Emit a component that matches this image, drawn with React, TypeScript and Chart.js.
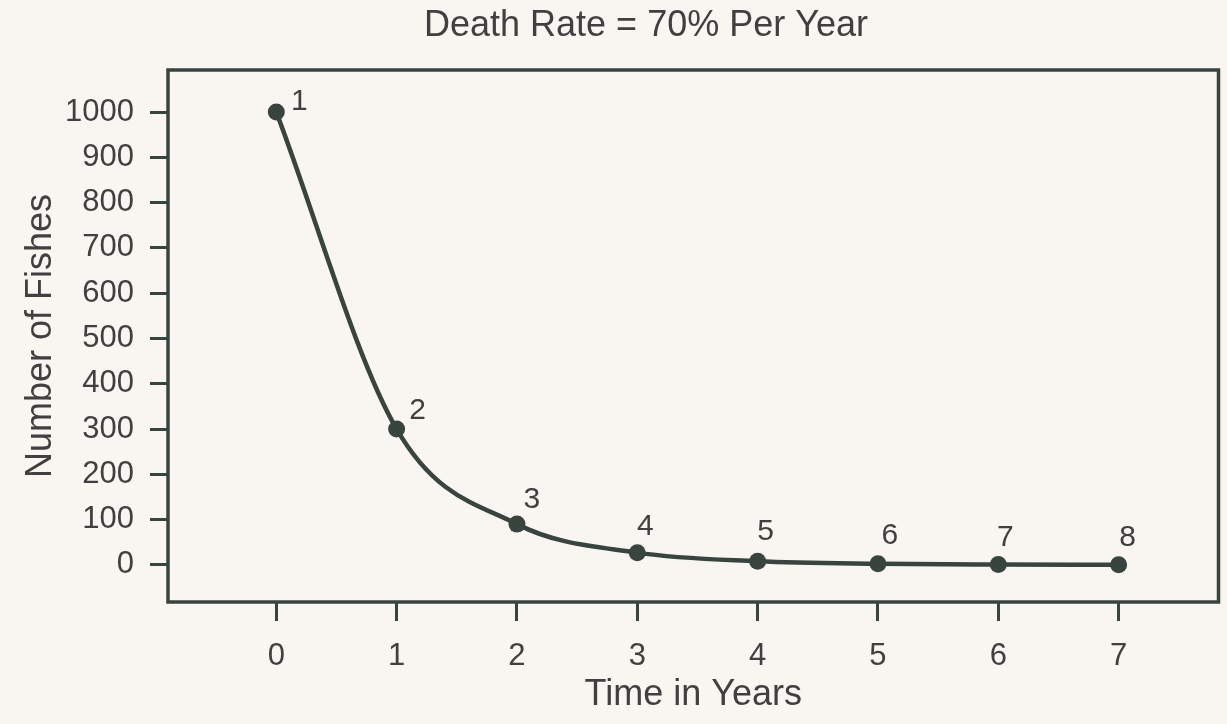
import React, { useEffect, useRef } from "react";
import { Chart, registerables } from "chart.js";

Chart.register(...registerables);

const years = [0, 1, 2, 3, 4, 5, 6, 7];
const fishes = [1000, 300, 90, 27, 8, 2.4, 0.7, 0.2];
const pointLabels = ["1", "2", "3", "4", "5", "6", "7", "8"];
const yTickValues = [0, 100, 200, 300, 400, 500, 600, 700, 800, 900, 1000];
const xTickValues = [0, 1, 2, 3, 4, 5, 6, 7];
const titleText = "Death Rate = 70% Per Year";
const xTitle = "Time in Years";
const yTitle = "Number of Fishes";

// label placement (style): offsets from each point centre
const labelOffsets = [
  [23, -10],
  [21, -18],
  [15, -24],
  [8, -26],
  [8, -30],
  [12, -28],
  [7, -27],
  [9, -27],
];

const INK = "#38453f";
const TEXT = "#404040";
const BG = "#f9f5f0";
const FONT = "'Liberation Sans', Arial, Helvetica, sans-serif";

export default function App() {
  const ref = useRef<HTMLCanvasElement | null>(null);

  useEffect(() => {
    document.body.style.margin = "0";
    document.body.style.background = BG;
    const canvas = ref.current;
    if (!canvas) return;

    const boxPlugin = {
      id: "box",
      afterDatasetsDraw(chart: any) {
        const { ctx, chartArea } = chart;
        ctx.save();
        ctx.strokeStyle = INK;
        ctx.lineWidth = 3.5;
        ctx.strokeRect(
          chartArea.left,
          chartArea.top,
          chartArea.right - chartArea.left,
          chartArea.bottom - chartArea.top
        );
        ctx.restore();
      },
    };

    const labelsPlugin = {
      id: "pointLabels",
      afterDatasetsDraw(chart: any) {
        const { ctx } = chart;
        const meta = chart.getDatasetMeta(0);
        ctx.save();
        ctx.fillStyle = TEXT;
        ctx.font = `30px ${FONT}`;
        ctx.textAlign = "center";
        ctx.textBaseline = "middle";
        meta.data.forEach((el: any, i: number) => {
          const [dx, dy] = labelOffsets[i];
          ctx.fillText(pointLabels[i], el.x + dx, el.y + dy);
        });
        ctx.restore();
      },
    };

    const titlePlugin = {
      id: "topTitle",
      afterDraw(chart: any) {
        const { ctx, chartArea } = chart;
        ctx.save();
        ctx.fillStyle = TEXT;
        ctx.font = `36px ${FONT}`;
        ctx.textAlign = "center";
        ctx.textBaseline = "middle";
        ctx.fillText(
          titleText,
          chartArea.left + (chartArea.right - chartArea.left) * 0.455,
          chartArea.top - 44
        );
        ctx.restore();
      },
    };

    const chart = new Chart(canvas, {
      type: "line",
      data: {
        datasets: [
          {
            data: years.map((x, i) => ({ x, y: fishes[i] })),
            borderColor: INK,
            backgroundColor: INK,
            borderWidth: 4.5,
            pointRadius: 8.5,
            pointBorderWidth: 0,
            pointBackgroundColor: INK,
            cubicInterpolationMode: "monotone",
            fill: false,
          },
        ],
      },
      options: {
        responsive: false,
        animation: false,
        maintainAspectRatio: false,
        layout: { padding: { top: 70, right: 4, bottom: 0, left: 0 } },
        plugins: {
          legend: { display: false },
          tooltip: { enabled: false },
          title: { display: false },
        },
        scales: {
          x: {
            type: "linear",
            min: -0.9,
            max: 7.83,
            afterBuildTicks(scale: any) {
              scale.ticks = xTickValues.map((v) => ({ value: v }));
            },
            afterFit(scale: any) {
              scale.height = 122;
            },
            border: { display: false },
            grid: {
              drawOnChartArea: false,
              drawTicks: true,
              tickLength: 19,
              tickColor: INK,
              tickWidth: 3,
              color: INK,
            },
            ticks: {
              color: TEXT,
              padding: 17,
              font: { family: FONT, size: 31 },
              maxRotation: 0,
              autoSkip: false,
              callback: (v: any) => String(v),
            },
            title: {
              display: true,
              text: xTitle,
              color: TEXT,
              font: { family: FONT, size: 36 },
              padding: { top: 0, bottom: 7.4 },
            },
          },
          y: {
            type: "linear",
            min: -82,
            max: 1093,
            afterBuildTicks(scale: any) {
              scale.ticks = yTickValues.map((v) => ({ value: v }));
            },
            afterFit(scale: any) {
              scale.width = 168;
            },
            border: { display: false },
            grid: {
              drawOnChartArea: false,
              drawTicks: true,
              tickLength: 18,
              tickColor: INK,
              tickWidth: 3,
              color: INK,
            },
            ticks: {
              color: TEXT,
              padding: 16,
              font: { family: FONT, size: 31 },
              autoSkip: false,
              callback: (v: any) => String(v),
            },
            title: {
              display: true,
              text: yTitle,
              color: TEXT,
              font: { family: FONT, size: 36 },
              padding: { top: 19.4, bottom: 0 },
            },
          },
        },
      },
      plugins: [boxPlugin, labelsPlugin, titlePlugin],
    } as any);

    return () => chart.destroy();
  }, []);

  return (
    <div style={{ width: 1227, height: 724, background: BG }}>
      <canvas ref={ref} width={1227} height={724} style={{ display: "block" }} />
    </div>
  );
}
